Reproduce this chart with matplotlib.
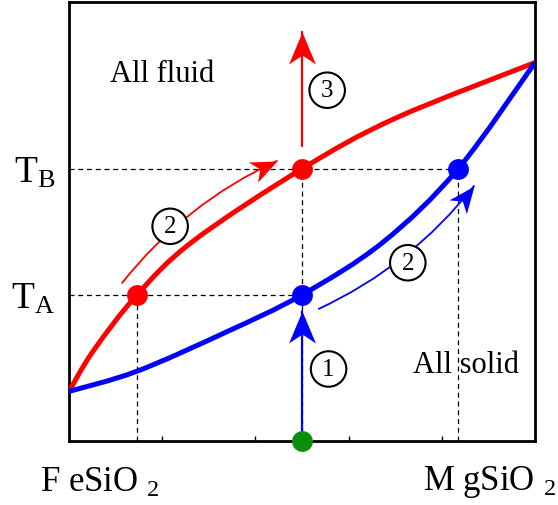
import numpy as np
import matplotlib.pyplot as plt
from matplotlib.patches import FancyArrowPatch, PathPatch
from matplotlib.path import Path
from matplotlib.markers import MarkerStyle
from matplotlib.transforms import Affine2D

plt.rcParams['font.family'] = 'Liberation Serif'
plt.rcParams['mathtext.fontset'] = 'custom'
plt.rcParams['mathtext.rm'] = 'Liberation Serif'
plt.rcParams['mathtext.it'] = 'Liberation Serif:italic'

# liquidus (red) and solidus (blue)
liq_x = [0.0, 0.052, 0.146, 0.266, 0.5, 0.70, 1.0]
liq_y = [0.113, 0.205, 0.333, 0.455, 0.620, 0.735, 0.862]
sol_x = [0.0, 0.146, 0.339, 0.5, 0.674, 0.835, 1.0]
sol_y = [0.113, 0.159, 0.249, 0.333, 0.453, 0.620, 0.862]

TA = 0.333
TB = 0.620
x_liqA = 0.146   # liquid composition at TA
x_bulk = 0.5     # bulk composition
x_solB = 0.835   # solid composition at TB

# arrows: (start, end, rad)
arrow_red2 = ((0.114, 0.360), (0.446, 0.638), -0.12)
arrow_blue2 = ((0.536, 0.301), (0.869, 0.581), 0.12)
arrow_1 = ((x_bulk, 0.0), (x_bulk, 0.296), 0.0)
arrow_3 = ((x_bulk, 0.672), (x_bulk, 0.932), 0.0)

# circled step labels
steps = [("1", 0.557, 0.164), ("2", 0.217, 0.489), ("2", 0.727, 0.406), ("3", 0.554, 0.799)]

fig = plt.figure(figsize=(5.58, 5.06), dpi=100)
ax = fig.add_axes([0.1237, 0.1265, 0.8351, 0.8676])
ax.set_xlim(0, 1)
ax.set_ylim(0, 1)

for s in ax.spines.values():
    s.set_linewidth(2)


def smooth_path(xs, ys):
    # catmull-rom through the read points, drawn as cubic bezier segments
    p = np.column_stack([xs, ys])
    verts = [p[0]]
    codes = [Path.MOVETO]
    for i in range(len(p) - 1):
        p0 = p[i - 1] if i > 0 else p[i]
        p3 = p[i + 2] if i + 2 < len(p) else p[i + 1]
        c1 = p[i] + (p[i + 1] - p0) / 6
        c2 = p[i + 1] - (p3 - p[i]) / 6
        verts += [c1, c2, p[i + 1]]
        codes += [Path.CURVE4] * 3
    return Path(verts, codes)


dash = dict(color='black', lw=0.9, dashes=(4, 3), zorder=1)
ax.plot([0, x_bulk], [TA, TA], **dash)
ax.plot([0, x_solB], [TB, TB], **dash)
ax.plot([x_liqA, x_liqA], [0, TA], **dash)
ax.plot([x_bulk, x_bulk], [0, TB], **dash)
ax.plot([x_solB, x_solB], [0, TB], **dash)

ax.add_patch(PathPatch(smooth_path(liq_x, liq_y), fc='none', ec='red', lw=3.6, zorder=3))
ax.add_patch(PathPatch(smooth_path(sol_x, sol_y), fc='none', ec='blue', lw=3.6, zorder=3))

# stealth-like arrow head, tip at origin pointing along +x
head = Path([(0, 0), (-1, 0.42), (-0.72, 0), (-1, -0.42), (0, 0)],
            [Path.MOVETO, Path.LINETO, Path.LINETO, Path.LINETO, Path.CLOSEPOLY])


def arrow(spec, color, lw=1.6, ms=46):
    p0, p1, rad = spec
    ax.add_patch(FancyArrowPatch(p0, p1, connectionstyle=f"arc3,rad={rad}",
                                 arrowstyle='-', color=color, lw=lw,
                                 shrinkA=0, shrinkB=0, zorder=4))
    # end tangent of the arc in display space
    d0 = ax.transData.transform(p0)
    d1 = ax.transData.transform(p1)
    mid = (d0 + d1) / 2
    dx, dy = d1 - d0
    ctrl = mid + rad * np.array([dy, -dx])
    t = d1 - ctrl
    ang = np.degrees(np.arctan2(t[1], t[0]))
    m = MarkerStyle(head, transform=Affine2D().rotate_deg(ang))
    ax.plot([p1[0]], [p1[1]], marker=m, ms=ms, color=color, mec='none', zorder=4)


arrow(arrow_1, 'blue')
arrow(arrow_3, 'red')
arrow(arrow_red2, 'red', lw=1.3, ms=38)
arrow(arrow_blue2, 'blue', lw=1.3, ms=38)

ax.plot([x_liqA, x_bulk], [TA, TB], 'o', color='red', ms=15, mec='none', zorder=5)
ax.plot([x_bulk, x_solB], [TA, TB], 'o', color='blue', ms=15, mec='none', zorder=5)
ax.plot([x_bulk], [0], 'o', color='#0a8f0a', ms=15, mec='none', zorder=6, clip_on=False)

for lab, x, y in steps:
    ax.text(x, y, lab, fontsize=18, ha='center', va='center', zorder=7,
            bbox=dict(boxstyle='circle,pad=0.27', fc='white', ec='black', lw=1.5))

ax.text(0.088, 0.838, "All fluid", fontsize=22, va='center', ha='left')
ax.text(0.738, 0.175, "All solid", fontsize=22, va='center', ha='left')

ax.set_xticks([0.2, 0.4, 0.6, 0.8])
ax.set_xticklabels([])
ax.tick_params(axis='x', direction='in', length=3.6, width=1)
ax.set_yticks([TA, TB])
ax.set_yticklabels([r"T$_{\rm A}$", r"T$_{\rm B}$"], fontsize=27)
ax.tick_params(axis='y', length=0, pad=10)

fig.text(40 / 558, 1 - 492 / 506, r"F eSiO $_2$", fontsize=25, va='baseline', ha='left')
fig.text(423 / 558, 1 - 490 / 506, r"M gSiO $_2$", fontsize=25, va='baseline', ha='left')

fig.savefig('out.png', dpi=100)
